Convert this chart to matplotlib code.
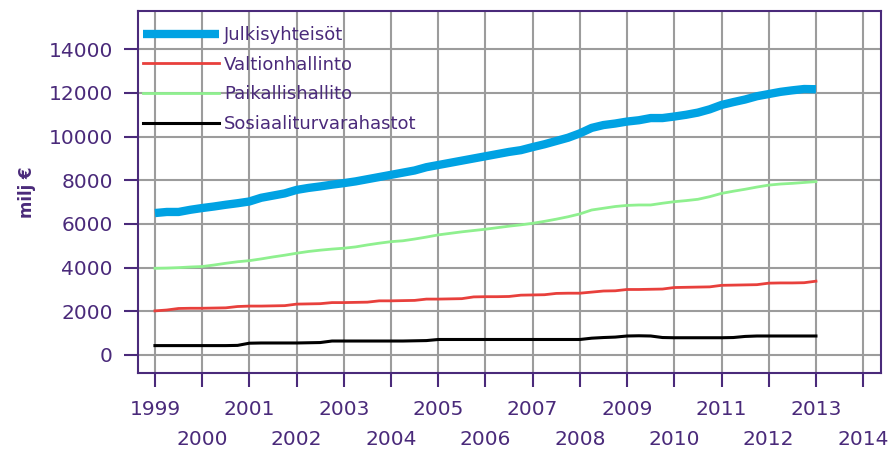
import numpy as np
import matplotlib
matplotlib.use('Agg')
import matplotlib.pyplot as plt

# quarterly points, 1999 -> 2013
years = np.arange(1999, 2013.01, 0.25)

julkisyhteisot = [6500, 6550, 6550, 6650, 6730, 6800, 6880, 6950,
                  7030, 7200, 7300, 7400, 7560, 7650, 7720, 7800,
                  7870, 7950, 8050, 8150, 8250, 8350, 8450, 8600,
                  8700, 8800, 8900, 9000, 9100, 9200, 9300, 9380,
                  9520, 9650, 9800, 9950, 10150, 10400, 10530, 10600,
                  10690, 10750, 10850, 10850, 10920, 11000, 11100, 11250,
                  11450, 11580, 11700, 11850, 11950, 12050, 12120, 12180,
                  12170]
valtionhallinto = [2020, 2060, 2130, 2140, 2140, 2150, 2160, 2220,
                   2240, 2240, 2250, 2260, 2330, 2340, 2350, 2400,
                   2400, 2410, 2420, 2480, 2480, 2490, 2500, 2560,
                   2560, 2570, 2580, 2660, 2670, 2670, 2680, 2740,
                   2750, 2760, 2820, 2830, 2830, 2880, 2930, 2940,
                   3000, 3000, 3010, 3020, 3090, 3100, 3110, 3120,
                   3190, 3200, 3210, 3220, 3290, 3300, 3300, 3310,
                   3380]
paikallishallinto = [3970, 3980, 4000, 4030, 4050, 4120, 4200, 4270,
                     4320, 4400, 4490, 4570, 4660, 4740, 4800, 4850,
                     4890, 4950, 5040, 5120, 5190, 5230, 5310, 5400,
                     5500, 5570, 5640, 5700, 5760, 5830, 5900, 5960,
                     6030, 6120, 6220, 6330, 6460, 6640, 6720, 6800,
                     6850, 6870, 6870, 6950, 7020, 7070, 7130, 7250,
                     7400, 7500, 7590, 7690, 7780, 7830, 7860, 7900,
                     7940]
sosiaaliturva = [430, 430, 430, 430, 430, 430, 430, 440,
                 540, 550, 550, 550, 550, 560, 570, 640,
                 640, 640, 640, 640, 640, 640, 650, 660,
                 710, 710, 710, 710, 710, 710, 710, 710,
                 710, 710, 710, 710, 710, 770, 800, 820,
                 870, 880, 870, 800, 790, 790, 790, 790,
                 790, 800, 850, 870, 870, 870, 870, 870,
                 870]

series_names = ['Julkisyhteisöt', 'Valtionhallinto', 'Paikallishallito', 'Sosiaaliturvarahastot']
odd_years = list(range(1999, 2014, 2))
even_years = list(range(2000, 2015, 2))
y_ticks = list(range(0, 14001, 2000))

purple = '#4a2a7a'
grid_col = '#9c9c9c'

fig = plt.figure(figsize=(8.9, 4.57), dpi=100)
ax = fig.add_axes([0.155, 0.1845, 0.835, 0.7915])

ax.plot(years, julkisyhteisot, color='#00a2e3', lw=6, solid_capstyle='butt', label=series_names[0], zorder=3)
ax.plot(years, valtionhallinto, color='#e8403c', lw=2, label=series_names[1], zorder=3)
ax.plot(years, paikallishallinto, color='#8ff08f', lw=2, label=series_names[2], zorder=3)
ax.plot(years, sosiaaliturva, color='black', lw=2.2, label=series_names[3], zorder=3)

ax.set_xlim(1998.64, 2014.38)
ax.set_ylim(-810, 15754)

ax.set_xticks(odd_years)
ax.set_xticklabels([str(y) for y in odd_years])
ax.set_xticks(even_years, minor=True)
ax.set_xticklabels([str(y) for y in even_years], minor=True)
ax.set_yticks(y_ticks)

ax.tick_params(axis='both', which='both', direction='out', length=10, width=1.5,
               color=purple, labelcolor=purple, labelsize=14.5)
ax.tick_params(axis='x', which='major', pad=10)
ax.tick_params(axis='x', which='minor', pad=31.5)
ax.tick_params(axis='y', pad=8)

ax.grid(True, which='both', color=grid_col, lw=1.5, zorder=0)
ax.set_axisbelow(True)
for sp in ax.spines.values():
    sp.set_color(purple)
    sp.set_linewidth(1.5)

ax.set_ylabel('milj €', color=purple, fontsize=12, fontweight='bold', labelpad=9)

leg = ax.legend(loc='upper left', bbox_to_anchor=(0.002, 0.968), frameon=False, fontsize=13,
                handlelength=4.2, handletextpad=0.3, labelspacing=0.64, borderaxespad=0, borderpad=0.2)
for t in leg.get_texts():
    t.set_color(purple)

fig.savefig('out.png', dpi=100)
